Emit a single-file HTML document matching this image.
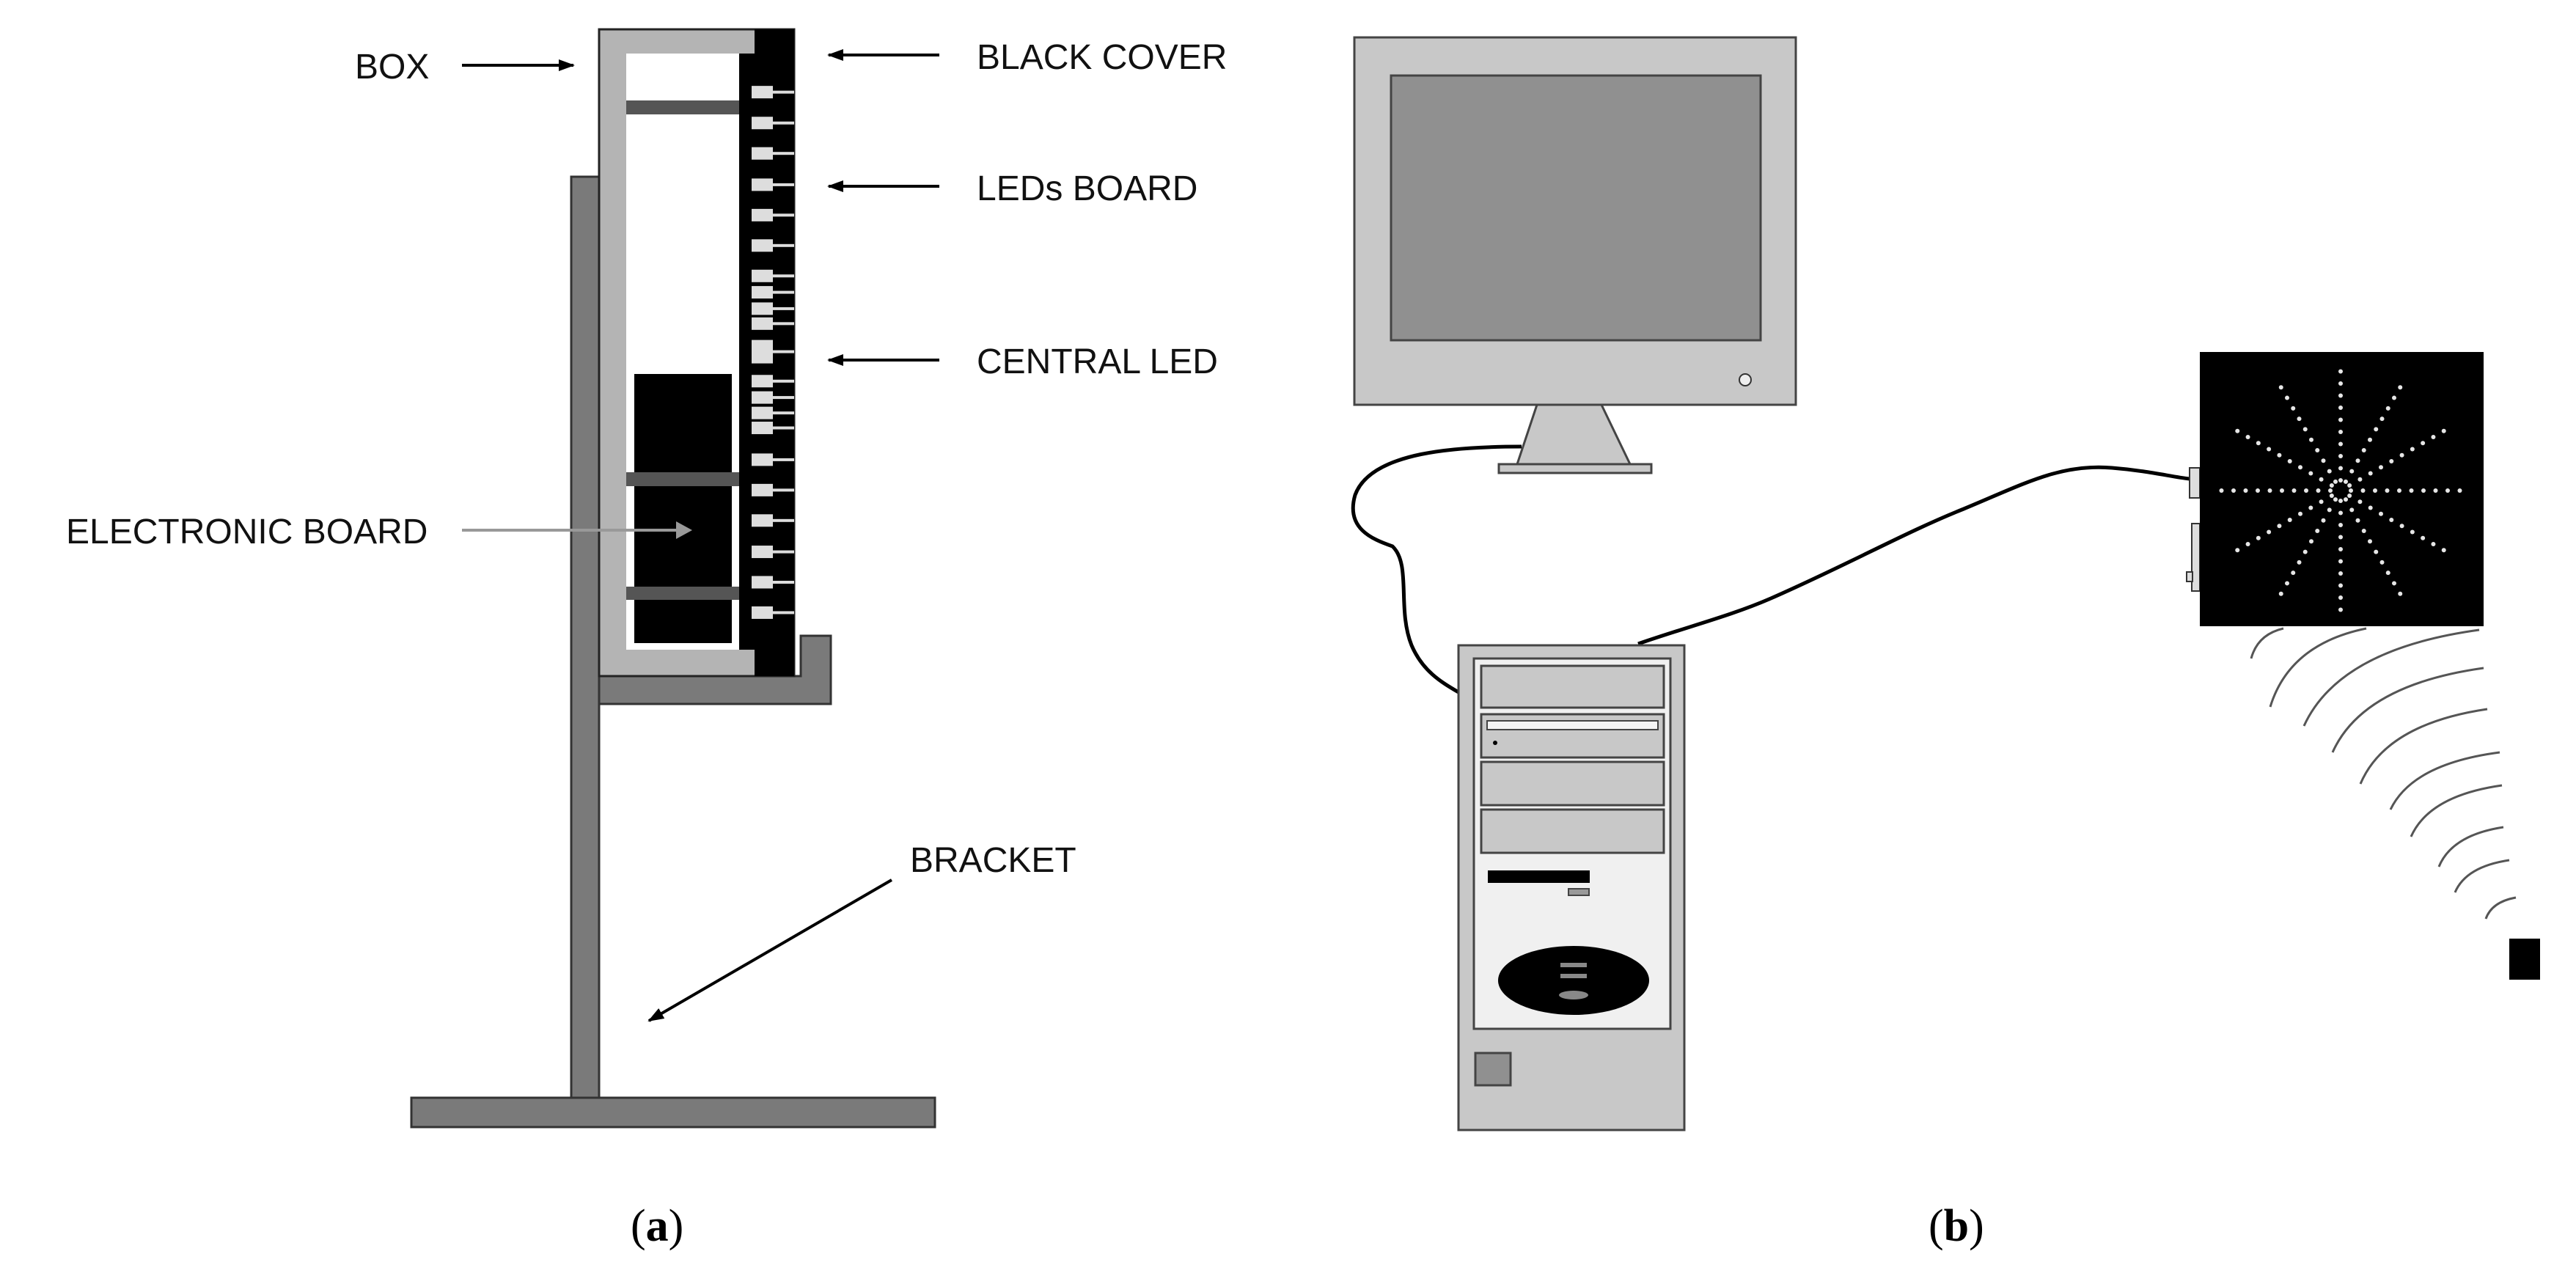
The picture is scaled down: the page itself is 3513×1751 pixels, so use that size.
<!DOCTYPE html>
<html><head><meta charset="utf-8"><style>
html,body{margin:0;padding:0;background:#fff;}
svg{display:block;}
.lbl{font-family:"Liberation Sans",sans-serif;font-size:48px;fill:#111;}
.cap{font-family:"Liberation Serif",serif;font-size:62px;fill:#000;}
</style></head><body>
<svg id="s" width="3513" height="1751" viewBox="0 0 3513 1751" xmlns="http://www.w3.org/2000/svg">
<defs>
<marker id="ah" markerWidth="22" markerHeight="16" refX="20" refY="8" orient="auto" markerUnits="userSpaceOnUse" viewBox="0 0 22 16"><path d="M0,0 L22,8 L0,16 z" fill="#000"/></marker>
</defs>
<!-- (a) bracket -->
<g fill="#7a7a7a" stroke="#333" stroke-width="3">
<rect x="779" y="241" width="38" height="1258"/>
<rect x="561" y="1497" width="714" height="40"/>
<path d="M817,922 H1092 V867 H1133 V960 H817 Z"/>
</g>
<!-- box -->
<rect x="817" y="40" width="266" height="882" fill="#b4b4b4" stroke="#222" stroke-width="3"/>
<rect x="1029" y="40" width="54" height="882" fill="#000"/>
<rect x="1008" y="73" width="25" height="813" fill="#000"/>
<rect x="854" y="73" width="154" height="813" fill="#fff"/>
<rect x="854" y="137" width="154" height="19" fill="#555"/>
<rect x="865" y="510" width="133" height="367" fill="#000"/>
<rect x="854" y="644" width="154" height="19" fill="#555"/>
<rect x="854" y="800" width="154" height="18" fill="#555"/>
<g id="leds" fill="#ddd"></g>
<!-- labels -->
<text class="lbl" x="484" y="107">BOX</text>
<text class="lbl" x="1332" y="94">BLACK COVER</text>
<text class="lbl" x="1332" y="273">LEDs BOARD</text>
<text class="lbl" x="1332" y="509">CENTRAL LED</text>
<text class="lbl" x="90" y="741">ELECTRONIC BOARD</text>
<text class="lbl" x="1241" y="1189">BRACKET</text>
<g stroke="#000" stroke-width="4" marker-end="url(#ah)">
<line x1="630" y1="89" x2="782" y2="89"/>
<line x1="1281" y1="75" x2="1130" y2="75"/>
<line x1="1281" y1="254" x2="1130" y2="254"/>
<line x1="1281" y1="491" x2="1130" y2="491"/>
<line x1="1216" y1="1200" x2="885" y2="1392"/>
</g>
<line x1="630" y1="723" x2="925" y2="723" stroke="#999" stroke-width="4"/>
<path d="M922,711 L944,723 L922,735 z" fill="#999"/>
<text class="cap" x="860" y="1692">(<tspan font-weight="bold">a</tspan>)</text>
<text class="cap" x="2630" y="1692">(<tspan font-weight="bold">b</tspan>)</text>
<!-- (b) monitor -->
<rect x="1847" y="51" width="602" height="501" fill="#c8c8c8" stroke="#444" stroke-width="3"/>
<rect x="1897" y="103" width="504" height="361" fill="#909090" stroke="#444" stroke-width="3"/>
<circle cx="2380" cy="518" r="8" fill="#eee" stroke="#333" stroke-width="2"/>
<path d="M2096,552 L2184,552 L2223,633 L2069,633 Z" fill="#c8c8c8" stroke="#444" stroke-width="3"/>
<rect x="2044" y="633" width="208" height="12" fill="#c8c8c8" stroke="#444" stroke-width="3"/>
<!-- cables -->
<path d="M2075,609 C1990,609 1870,615 1848,675 C1835,720 1870,735 1899,745 C1925,770 1905,830 1925,880 C1940,915 1965,930 1989,944" fill="none" stroke="#000" stroke-width="5"/>
<path d="M2234,878 C2300,855 2360,840 2415,816 C2520,770 2600,725 2678,694 C2760,660 2810,632 2880,638 C2930,642 2960,650 2986,653" fill="none" stroke="#000" stroke-width="5"/>
<!-- tower -->
<rect x="1989" y="880" width="308" height="661" fill="#c8c8c8" stroke="#444" stroke-width="3"/>
<rect x="2010" y="898" width="268" height="505" fill="#f0f0f0" stroke="#444" stroke-width="3"/>
<g fill="#c8c8c8" stroke="#444" stroke-width="3">
<rect x="2020" y="908" width="249" height="57"/>
<rect x="2020" y="974" width="249" height="59"/>
<rect x="2020" y="1039" width="249" height="59"/>
<rect x="2020" y="1104" width="249" height="59"/>
</g>
<rect x="2028" y="983" width="233" height="12" fill="#f4f4f4" stroke="#444" stroke-width="2"/>
<circle cx="2039" cy="1013" r="3" fill="#000"/>
<rect x="2029" y="1187" width="139" height="17" fill="#000"/>
<rect x="2139" y="1212" width="28" height="9" fill="#999" stroke="#444" stroke-width="2"/>
<ellipse cx="2146" cy="1337" rx="103" ry="47" fill="#000"/>
<rect x="2128" y="1313" width="36" height="6" fill="#888"/>
<rect x="2128" y="1328" width="36" height="6" fill="#888"/>
<ellipse cx="2146" cy="1357" rx="20" ry="6" fill="#888"/>
<rect x="2012" y="1436" width="48" height="44" fill="#909090" stroke="#444" stroke-width="3"/>
<!-- panel -->
<rect x="2986" y="638" width="14" height="41" fill="#ddd" stroke="#333" stroke-width="2"/>
<rect x="2989" y="714" width="11" height="92" fill="#ddd" stroke="#333" stroke-width="2"/>
<rect x="2982" y="780" width="8" height="13" fill="#ddd" stroke="#333" stroke-width="2"/>
<rect x="3000" y="480" width="387" height="374" fill="#000"/>
<g id="dots" fill="#e6e6e6"></g>
<!-- arcs -->
<g fill="none" stroke="#555" stroke-width="3" id="arcs"></g>
<rect x="3422" y="1280" width="42" height="56" fill="#000"/>
</svg>
<script>
var NS="http://www.w3.org/2000/svg";
var leds=document.getElementById("leds");
var ys=[197,263,328,395,460,525,590,625,660,692,752,815,850,883,915,983,1048,1113,1180,1245,1310];
ys.forEach(function(d){var y=d/1.568;var big=(d==752);var h=big?32:17;
var r=document.createElementNS(NS,"rect");r.setAttribute("x",1025);r.setAttribute("y",y-h/2);r.setAttribute("width",29);r.setAttribute("height",h);leds.appendChild(r);
var l=document.createElementNS(NS,"rect");l.setAttribute("x",1054);l.setAttribute("y",y-2);l.setAttribute("width",29);l.setAttribute("height",4);leds.appendChild(l);});
var dots=document.getElementById("dots");
var cx=3192,cy=669;
for(var k=0;k<12;k++){var a=k*Math.PI/6;var R=(k%3==0)?172:165;
for(var r=14;r<=R;r+=16.5){var c=document.createElementNS(NS,"circle");c.setAttribute("cx",cx+r*Math.cos(a));c.setAttribute("cy",cy+r*Math.sin(a));c.setAttribute("r",3);dots.appendChild(c);}}
var arcs=[[3070,898,3114,857],[3096,964,3227,857],[3142,990,3381,859],[3181,1026,3387,911],[3219,1069,3392,967],[3260,1104,3409,1026],[3288,1141,3412,1071],[3326,1182,3414,1128],[3348,1217,3422,1173],[3390,1253,3431,1224]];
var ag=document.getElementById("arcs");
arcs.forEach(function(p){var qx=p[0]+0.2*(p[2]-p[0]),qy=p[3]+0.2*(p[1]-p[3]);
var e=document.createElementNS(NS,"path");e.setAttribute("d","M"+p[0]+","+p[1]+" Q"+qx+","+qy+" "+p[2]+","+p[3]);ag.appendChild(e);});
</script>
</body></html>
